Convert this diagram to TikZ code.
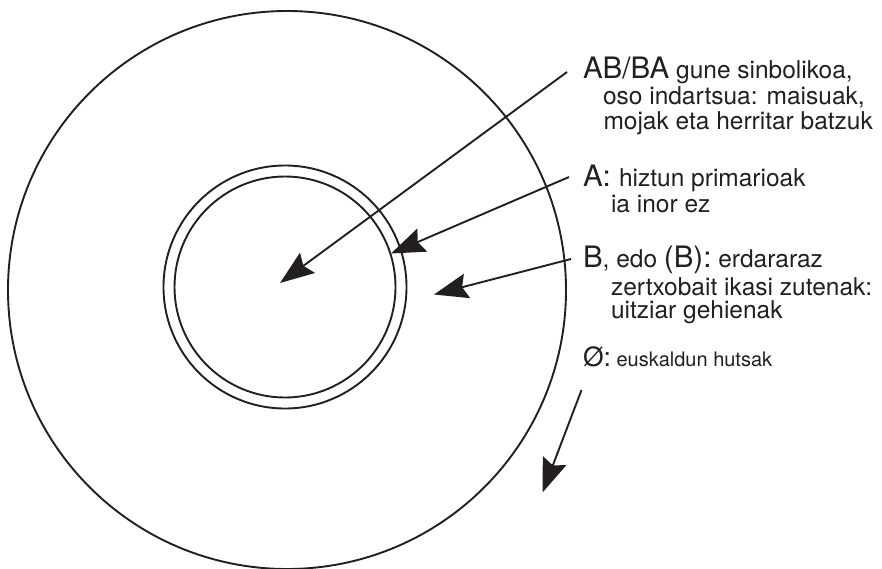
\documentclass[tikz,border=0pt]{standalone}
\usepackage{fontspec}
\setmainfont{TeX Gyre Heros}
\usetikzlibrary{arrows.meta}
\definecolor{ink}{RGB}{35,31,32}
\newcommand\bigtxt{\fontsize{29.5}{30}\selectfont}
\newcommand\smalltxt{\fontsize{24.5}{26}\selectfont}
\newcommand\bigtxtb{\fontsize{26.5}{28}\selectfont}
\newcommand\smalltxtb{\fontsize{20}{22}\selectfont}
\begin{document}
\begin{tikzpicture}[x=1pt,y=-1pt,
  ring/.style={draw=ink, line width=1.9pt},
  pointer/.style={draw=ink, line width=1.9pt,
    -{Stealth[length=34pt,width=25pt,inset=5pt]}},
  lbl/.style={anchor=base west, inner sep=0pt, outer sep=0pt, text=ink}]
\useasboundingbox (0,0) rectangle (882,568);

% concentric circles
\draw[ring] (287,290) circle[radius=279pt];
\draw[ring] (285,287) circle[radius=121.5pt];
\draw[ring] (285,287) circle[radius=110.5pt];

% labels
\node[lbl] (abba)  at (583,78)    {\bigtxt AB/BA\smalltxt{} gune sinbolikoa,};
\node[lbl] (abba2) at (603,104.5) {\smalltxt oso indartsua: maisuak,};
\node[lbl] (abba3) at (603.5,129) {\smalltxt mojak eta herritar batzuk};
\node[lbl] (a)     at (583,186)   {\bigtxt A: \smalltxt hiztun primarioak};
\node[lbl] (a2)    at (611,212)   {\smalltxt ia inor ez};
\node[lbl] (b)     at (583,267)   {\bigtxt B\smalltxt, edo \bigtxt(B):\smalltxt{} erdararaz};
\node[lbl] (b2)    at (611,295)   {\smalltxt zertxobait ikasi zutenak:};
\node[lbl] (b3)    at (611,318.5) {\smalltxt uitziar gehienak};
\node[lbl] (o)     at (583,366)   {\bigtxtb Ø:\smalltxtb{} euskaldun hutsak};

% arrow ends
\coordinate (abbatail) at (567,72);
\coordinate (abbatip)  at (280,283);
\coordinate (atail)    at (569,177);
\coordinate (atip)     at (391,253.5);
\coordinate (btail)    at (571,259);
\coordinate (btip)     at (434,294.5);
\coordinate (otail)    at (581.5,390);
\coordinate (otip)     at (542.5,492.5);

\draw[pointer] (abbatail) -- (abbatip);
\draw[pointer] (atail) -- (atip);
\draw[pointer] (btail) -- (btip);
\draw[pointer] (otail) -- (otip);
\end{tikzpicture}
\end{document}
